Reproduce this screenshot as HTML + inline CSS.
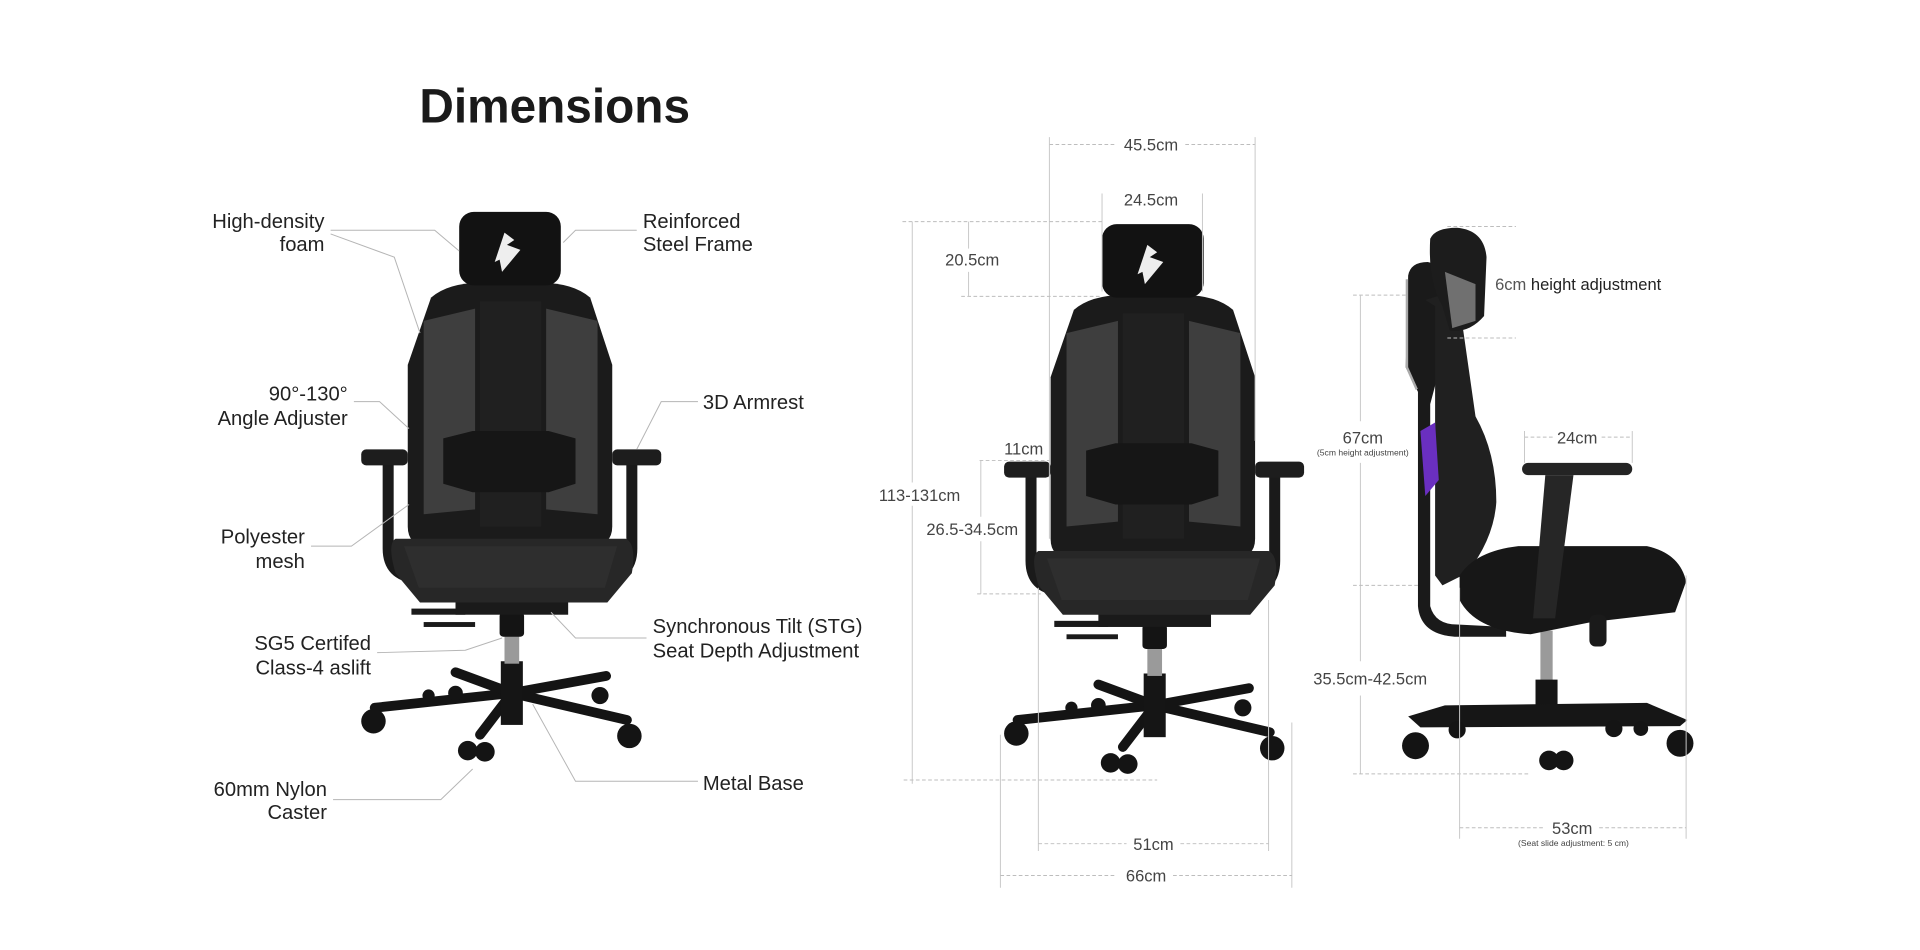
<!DOCTYPE html>
<html><head><meta charset="utf-8"><style>
html,body{margin:0;padding:0;background:#fff;width:1920px;height:950px;overflow:hidden}
svg{display:block}
.lb{font-family:"Liberation Sans",sans-serif;font-size:16.5px;fill:#222}
.dm{font-family:"Liberation Sans",sans-serif;font-size:13.5px;fill:#444}
.sm{font-family:"Liberation Sans",sans-serif;font-size:7px;fill:#444}
.ld{stroke:#b5b5b5;stroke-width:0.8;fill:none}
.ds{stroke:#bdbdbd;stroke-width:0.8;fill:none;stroke-dasharray:3 2}
.vl{stroke:#c8c8c8;stroke-width:0.8;fill:none}
</style></head><body>
<svg width="1920" height="950" viewBox="0 0 1568 775.8" xmlns="http://www.w3.org/2000/svg">
<defs>
<g id="fc">
  <g stroke="#141414" stroke-width="8" stroke-linecap="round">
    <line x1="418" y1="566" x2="306" y2="578"/>
    <line x1="418" y1="566" x2="372" y2="549"/>
    <line x1="418" y1="566" x2="495" y2="552"/>
    <line x1="418" y1="566" x2="512" y2="588"/>
    <line x1="418" y1="566" x2="392" y2="600"/>
  </g>
  <rect x="409" y="540" width="18" height="52" fill="#151515"/>
  <g fill="#141414">
    <circle cx="305" cy="589" r="10"/><circle cx="514" cy="601" r="10"/>
    <circle cx="382" cy="613" r="8"/><circle cx="396" cy="614" r="8"/>
    <circle cx="372" cy="566" r="6"/><circle cx="490" cy="568" r="7"/><circle cx="350" cy="568" r="5"/>
  </g>
  <rect x="412" y="518" width="12" height="24" fill="#9a9a9a"/>
  <rect x="408" y="500" width="20" height="20" rx="3" fill="#141414"/>
  <rect x="372" y="488" width="92" height="14" fill="#1a1a1a"/>
  <rect x="336" y="497" width="44" height="5" fill="#1a1a1a"/>
  <rect x="346" y="508" width="42" height="4" fill="#1a1a1a"/>
  <path d="M352,243 Q366,231 392,231 L442,231 Q468,231 482,243 L500,298 L500,430 Q500,446 482,446 L350,446 Q333,446 333,430 L333,298 Z" fill="#1b1b1b"/>
  <path d="M346,262 L388,252 L388,416 L346,420 Z" fill="#3e3e3e"/>
  <path d="M488,262 L446,252 L446,416 L488,420 Z" fill="#3e3e3e"/>
  <path d="M392,246 L442,246 L442,430 L392,430 Z" fill="#202020"/>
  <path d="M362,358 L386,352 L448,352 L470,358 L470,395 L448,402 L386,402 L362,395 Z" fill="#161616"/>
  <rect x="375" y="173" width="83" height="60" rx="12" fill="#121212"/>
  <path d="M412,190 L420,196 L414,200 L425,204 L410,222 L408,212 L404,214 Z" fill="#eee"/>
  <path d="M317,378 L317,448 Q317,470 340,472" stroke="#1a1a1a" stroke-width="9" fill="none"/>
  <path d="M516,378 L516,448 Q516,470 494,472" stroke="#1a1a1a" stroke-width="9" fill="none"/>
  <rect x="295" y="367" width="38" height="13" rx="4" fill="#1d1d1d"/>
  <rect x="500" y="367" width="40" height="13" rx="4" fill="#1d1d1d"/>
  <path d="M323,440 L511,440 Q520,444 516,468 L496,492 L343,492 L323,468 Q316,444 323,440 Z" fill="#272727"/>
  <path d="M330,446 L504,446 L494,480 L342,480 Z" fill="#2e2e2e"/>
</g>
</defs>

<text x="453" y="100" text-anchor="middle" style="font-family:'Liberation Sans',sans-serif;font-weight:bold;font-size:39px;fill:#1a1a1a">Dimensions</text>

<use href="#fc"/>

<polyline class="ld" points="270,188 355,188 375,205"/>
<polyline class="ld" points="270,191 322,210 343,272"/>
<polyline class="ld" points="520,188 470,188 460,198"/>
<polyline class="ld" points="289,328 310,328 334,350"/>
<polyline class="ld" points="570,328 540,328 520,367"/>
<polyline class="ld" points="254,446 287,446 334,412"/>
<polyline class="ld" points="308,533 380,531 410,521"/>
<polyline class="ld" points="528,521 470,521 450,500"/>
<polyline class="ld" points="272,653 360,653 386,628"/>
<polyline class="ld" points="570,638 470,638 435,575"/>

<g class="lb">
<text x="265" y="186" text-anchor="end">High-density</text>
<text x="265" y="205" text-anchor="end">foam</text>
<text x="525" y="186">Reinforced</text>
<text x="525" y="205">Steel Frame</text>
<text x="284" y="327" text-anchor="end">90°-130°</text>
<text x="284" y="347" text-anchor="end">Angle Adjuster</text>
<text x="574" y="334">3D Armrest</text>
<text x="249" y="444" text-anchor="end">Polyester</text>
<text x="249" y="464" text-anchor="end">mesh</text>
<text x="303" y="531" text-anchor="end">SG5 Certifed</text>
<text x="303" y="551" text-anchor="end">Class-4 aslift</text>
<text x="533" y="517">Synchronous Tilt (STG)</text>
<text x="533" y="537">Seat Depth Adjustment</text>
<text x="267" y="650" text-anchor="end">60mm Nylon</text>
<text x="267" y="669" text-anchor="end">Caster</text>
<text x="574" y="645">Metal Base</text>
</g>

<use href="#fc" transform="translate(525,10)"/>

<line class="ds" x1="857" y1="118" x2="912" y2="118"/><line class="ds" x1="968" y1="118" x2="1025" y2="118"/>
<line class="vl" x1="857" y1="112" x2="857" y2="440"/>
<line class="vl" x1="1025" y1="112" x2="1025" y2="360"/>
<text class="dm" x="940" y="123" text-anchor="middle">45.5cm</text>
<line class="vl" x1="900" y1="158" x2="900" y2="238"/>
<line class="vl" x1="982" y1="158" x2="982" y2="238"/>
<text class="dm" x="940" y="168" text-anchor="middle">24.5cm</text>
<line class="ds" x1="737" y1="181" x2="900" y2="181"/>
<line class="ds" x1="785" y1="242" x2="900" y2="242"/>
<line class="vl" x1="791" y1="181" x2="791" y2="203"/><line class="vl" x1="791" y1="222" x2="791" y2="242"/>
<text class="dm" x="794" y="217" text-anchor="middle">20.5cm</text>
<line class="vl" x1="745" y1="181" x2="745" y2="394"/><line class="vl" x1="745" y1="413" x2="745" y2="640"/>
<text class="dm" x="751" y="409" text-anchor="middle">113-131cm</text>
<line class="ds" x1="738" y1="637" x2="945" y2="637"/>
<text class="dm" x="836" y="371" text-anchor="middle">11cm</text>
<line class="ds" x1="800" y1="376" x2="857" y2="376"/>
<line class="ds" x1="798" y1="485" x2="850" y2="485"/>
<line class="vl" x1="801" y1="376" x2="801" y2="422"/><line class="vl" x1="801" y1="442" x2="801" y2="485"/>
<text class="dm" x="794" y="437" text-anchor="middle">26.5-34.5cm</text>
<line class="vl" x1="848" y1="480" x2="848" y2="695"/>
<line class="vl" x1="1036" y1="490" x2="1036" y2="695"/>
<line class="ds" x1="848" y1="689" x2="920" y2="689"/><line class="ds" x1="964" y1="689" x2="1036" y2="689"/>
<text class="dm" x="942" y="694" text-anchor="middle">51cm</text>
<line class="vl" x1="817" y1="600" x2="817" y2="725"/>
<line class="vl" x1="1055" y1="590" x2="1055" y2="725"/>
<line class="ds" x1="817" y1="715" x2="912" y2="715"/><line class="ds" x1="958" y1="715" x2="1055" y2="715"/>
<text class="dm" x="936" y="720" text-anchor="middle">66cm</text>

<g>
  <rect x="1258" y="515" width="10" height="60" fill="#9a9a9a"/>
  <rect x="1254" y="555" width="18" height="30" fill="#151515"/>
  <path d="M1150,585 L1180,576 L1345,574 L1378,588 L1372,593 L1160,594 Z" fill="#161616"/>
  <g fill="#141414">
    <circle cx="1156" cy="609" r="11"/><circle cx="1372" cy="607" r="11"/>
    <circle cx="1265" cy="621" r="8"/><circle cx="1277" cy="621" r="8"/>
    <circle cx="1190" cy="596" r="7"/><circle cx="1318" cy="595" r="7"/><circle cx="1340" cy="595" r="6"/>
  </g>
  <path d="M1150,225 Q1152,214 1166,214 Q1178,216 1176,232 L1176,300 L1168,330 L1168,495 Q1172,510 1190,510 L1230,512 L1230,520 L1188,520 Q1160,518 1158,495 L1158,320 L1148,300 Z" fill="#1a1a1a"/>
  <path d="M1149,228 L1149,300 L1157,318" stroke="#aaa" stroke-width="2" fill="none"/>
  <path d="M1164,245 L1180,240 Q1190,245 1195,270 L1205,340 Q1222,370 1222,410 Q1220,440 1198,468 L1178,478 L1172,470 L1172,250 Z" fill="#202020"/>
  <path d="M1160,352 L1172,345 L1175,392 L1164,405 Z" fill="#6a2fc0"/>
  <path d="M1168,195 Q1172,186 1190,186 Q1212,188 1214,210 L1212,258 Q1200,272 1184,270 L1178,250 Q1166,230 1168,195 Z" fill="#1c1c1c"/>
  <path d="M1180,222 L1205,232 L1205,262 L1186,268 Z" fill="#707070"/>
  <path d="M1192,470 Q1205,450 1240,446 L1345,446 Q1372,452 1377,475 L1368,500 L1300,508 L1250,518 Q1205,515 1192,490 Z" fill="#171717"/>
  <path d="M1262,388 L1285,388 L1270,505 L1252,505 Z" fill="#262626"/>
  <rect x="1243" y="378" width="90" height="10" rx="5" fill="#242424"/>
  <rect x="1298" y="502" width="14" height="26" rx="5" fill="#1a1a1a"/>
</g>

<line class="ds" x1="1182" y1="185" x2="1238" y2="185"/>
<line class="ds" x1="1182" y1="276" x2="1238" y2="276"/>
<text x="1221" y="237" style="font-family:'Liberation Sans',sans-serif;font-size:13.5px"><tspan fill="#555">6cm </tspan><tspan fill="#222">height adjustment</tspan></text>
<line class="ds" x1="1105" y1="241" x2="1150" y2="241"/>
<line class="vl" x1="1111" y1="241" x2="1111" y2="344"/>
<text class="dm" x="1113" y="362" text-anchor="middle">67cm</text>
<text class="sm" x="1113" y="372" text-anchor="middle">(5cm height adjustment)</text>
<line class="vl" x1="1111" y1="378" x2="1111" y2="540"/>
<line class="ds" x1="1105" y1="478" x2="1160" y2="478"/>
<text class="dm" x="1119" y="559" text-anchor="middle">35.5cm-42.5cm</text>
<line class="vl" x1="1111" y1="568" x2="1111" y2="632"/>
<line class="ds" x1="1105" y1="632" x2="1250" y2="632"/>
<line class="ds" x1="1245" y1="357" x2="1268" y2="357"/><line class="ds" x1="1308" y1="357" x2="1333" y2="357"/>
<line class="vl" x1="1245" y1="352" x2="1245" y2="378"/><line class="vl" x1="1333" y1="352" x2="1333" y2="378"/>
<text class="dm" x="1288" y="362" text-anchor="middle">24cm</text>
<line class="vl" x1="1192" y1="480" x2="1192" y2="685"/>
<line class="vl" x1="1377" y1="470" x2="1377" y2="685"/>
<line class="ds" x1="1192" y1="676" x2="1262" y2="676"/><line class="ds" x1="1306" y1="676" x2="1377" y2="676"/>
<text class="dm" x="1284" y="681" text-anchor="middle">53cm</text>
<text class="sm" x="1285" y="691" text-anchor="middle">(Seat slide adjustment: 5 cm)</text>
</svg>
</body></html>
